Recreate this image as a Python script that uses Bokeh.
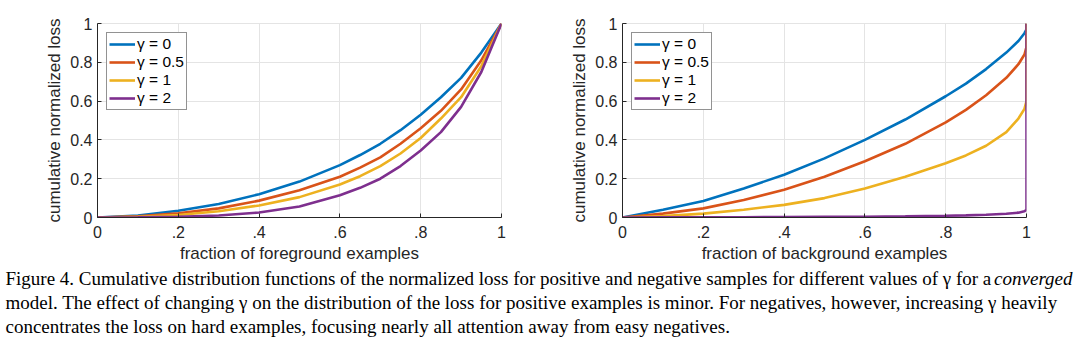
from bokeh.plotting import figure
from bokeh.models import Range1d, FixedTicker, Legend, LegendItem
from bokeh.layouts import column, row
from bokeh.embed import file_html
from bokeh.resources import INLINE
from bokeh.core.properties import value

# ---------------- data ----------------
gamma_labels = ["γ = 0", "γ = 0.5", "γ = 1", "γ = 2"]
colors = ["#0072BD", "#D95319", "#EDB120", "#7E2F8E"]

fg_x = [0, 0.1, 0.2, 0.3, 0.4, 0.5, 0.6, 0.65, 0.7, 0.75, 0.8, 0.85, 0.9, 0.95, 1.0]
fg_g0 = [0, 0.010, 0.035, 0.070, 0.120, 0.185, 0.270, 0.322, 0.380, 0.450, 0.530, 0.620, 0.720, 0.850, 1.0]
fg_g05 = [0, 0.006, 0.022, 0.047, 0.087, 0.140, 0.210, 0.257, 0.310, 0.380, 0.460, 0.550, 0.660, 0.810, 1.0]
fg_g1 = [0, 0.003, 0.013, 0.032, 0.062, 0.105, 0.170, 0.213, 0.265, 0.330, 0.410, 0.510, 0.620, 0.780, 1.0]
fg_g2 = [0, 0.0005, 0.003, 0.010, 0.026, 0.057, 0.115, 0.153, 0.200, 0.265, 0.345, 0.440, 0.570, 0.750, 1.0]

bg_x = [0, 0.1, 0.2, 0.3, 0.4, 0.5, 0.6, 0.7, 0.8, 0.85, 0.9, 0.95, 0.98, 0.995, 1.0, 1.0]
bg_g0 = [0, 0.040, 0.085, 0.150, 0.220, 0.305, 0.400, 0.505, 0.625, 0.690, 0.765, 0.850, 0.910, 0.950, 0.970, 1.0]
bg_g05 = [0, 0.020, 0.047, 0.090, 0.143, 0.210, 0.290, 0.380, 0.490, 0.555, 0.630, 0.720, 0.790, 0.840, 0.880, 1.0]
bg_g1 = [0, 0.007, 0.020, 0.040, 0.065, 0.100, 0.150, 0.210, 0.280, 0.320, 0.370, 0.440, 0.510, 0.560, 0.600, 1.0]
bg_g2 = [0, 0.0005, 0.001, 0.0015, 0.002, 0.003, 0.004, 0.006, 0.009, 0.011, 0.014, 0.019, 0.025, 0.032, 0.040, 1.0]

x_ticks = [0, 0.2, 0.4, 0.6, 0.8, 1.0]
x_tick_labels = ["0", ".2", ".4", ".6", ".8", "1"]
y_ticks = [0, 0.2, 0.4, 0.6, 0.8, 1.0]
y_tick_labels = ["0", "0.2", "0.4", "0.6", "0.8", "1"]

y_label = "cumulative normalized loss"
fg_xlabel = "fraction of foreground examples"
bg_xlabel = "fraction of background examples"

caption_lines = [
    "Figure 4. Cumulative distribution functions of the normalized loss for positive and negative samples for different values of γ for a",
    "model. The effect of changing γ on the distribution of the loss for positive examples is minor. For negatives, however, increasing γ heavily",
    "concentrates the loss on hard examples, focusing nearly all attention away from easy negatives.",
]
caption_italic = "converged"

AX = "#262626"
GRID = "#e4e4e4"
SANS = "Liberation Sans"
FIG_H = 268


def panel(xs, ys_list, xlabel, width, bl, br):
    p = figure(width=width, height=FIG_H, x_range=Range1d(0, 1), y_range=Range1d(0, 1),
               output_backend="svg", toolbar_location=None,
               min_border_left=bl, min_border_right=br, min_border_top=23,
               min_border_bottom=FIG_H - 217)
    p.outline_line_color = GRID
    p.background_fill_color = "white"
    p.border_fill_color = "white"
    p.grid.grid_line_color = GRID
    p.grid.grid_line_width = 1
    p.xaxis.ticker = FixedTicker(ticks=x_ticks)
    p.yaxis.ticker = FixedTicker(ticks=y_ticks)
    p.xaxis.major_label_overrides = {t: l for t, l in zip(x_ticks, x_tick_labels)}
    p.yaxis.major_label_overrides = {t: l for t, l in zip(y_ticks, y_tick_labels)}
    p.xgrid.ticker = FixedTicker(ticks=x_ticks)
    p.ygrid.ticker = FixedTicker(ticks=y_ticks)
    for ax in (p.xaxis[0], p.yaxis[0]):
        ax.axis_line_color = AX
        ax.axis_line_width = 1
        ax.major_tick_line_color = AX
        ax.major_tick_in = 4
        ax.major_tick_out = 0
        ax.minor_tick_line_color = None
        ax.major_label_text_font = SANS
        ax.major_label_text_font_size = "16px"
        ax.major_label_text_color = AX
        ax.axis_label_text_font = SANS
        ax.axis_label_text_font_size = "17px"
        ax.axis_label_text_font_style = "normal"
        ax.axis_label_text_color = AX
    p.xaxis.major_label_standoff = 8
    p.xaxis.axis_label_standoff = 3
    p.yaxis.major_label_standoff = 5
    p.yaxis.axis_label_standoff = 3
    p.xaxis.axis_label = xlabel
    p.yaxis.axis_label = y_label

    items = []
    for ys, c, lab in zip(ys_list, colors, gamma_labels):
        r = p.line(xs, ys, line_color=c, line_width=2.6)
        items.append(LegendItem(label=lab, renderers=[r]))
    leg = Legend(items=items, location="top_left")
    leg.margin = 9
    leg.padding = 2
    leg.spacing = 0
    leg.label_height = 18
    leg.glyph_height = 18
    leg.glyph_width = 26
    leg.label_standoff = 2
    leg.label_text_font = SANS
    leg.label_text_font_size = "15.5px"
    leg.label_text_color = "black"
    leg.border_line_color = AX
    leg.border_line_width = 1
    leg.background_fill_alpha = 1
    p.add_layout(leg, "center")
    return p


p1 = panel(fg_x, [fg_g0, fg_g05, fg_g1, fg_g2], fg_xlabel, 540, 97, 39)
p2 = panel(bg_x, [bg_g0, bg_g05, bg_g1, bg_g2], bg_xlabel, 537, 82, 51)

CAP_H = 350 - FIG_H
cap = figure(width=1077, height=CAP_H, x_range=Range1d(0, 1077), y_range=Range1d(CAP_H, 0),
             output_backend="svg", toolbar_location=None,
             min_border=0, min_border_left=0, min_border_right=0, min_border_top=0, min_border_bottom=0)
cap.axis.visible = False
cap.grid.visible = False
cap.outline_line_color = None
SERIF = value("Liberation Serif")
line_y = [278 - FIG_H, 302 - FIG_H, 326 - FIG_H]
cap.text(x=[5, 5, 5], y=line_y, text=caption_lines, text_font=SERIF, text_font_size="19px",
         text_baseline="middle", text_align="left", text_color="black")
cap.text(x=[1072], y=[line_y[0]], text=[caption_italic], text_font=SERIF, text_font_size="19px",
         text_font_style="italic", text_baseline="middle", text_align="right", text_color="black")

layout = column(row(p1, p2), cap)
open("out.html", "w").write(file_html(layout, INLINE))
